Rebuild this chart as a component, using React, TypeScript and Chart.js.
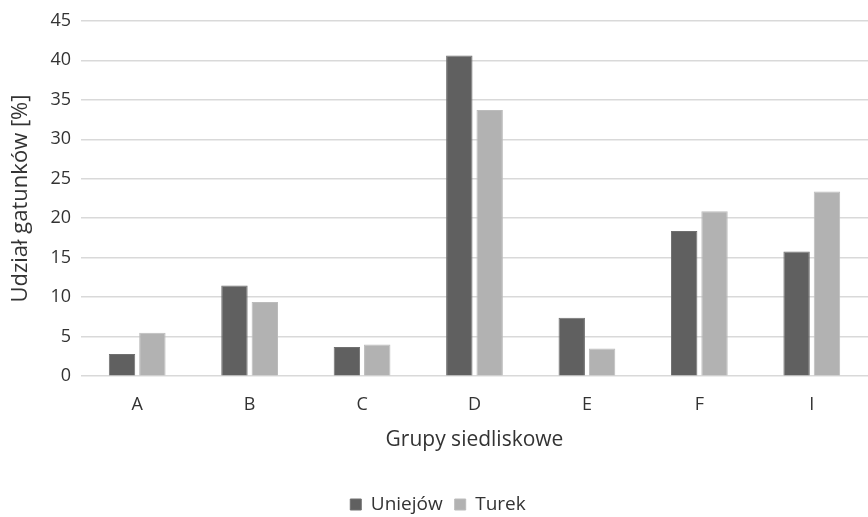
import React, { useEffect, useRef } from "react";
import { Chart, registerables } from "chart.js";

Chart.register(...registerables);

const categories = ["A", "B", "C", "D", "E", "F", "I"];
const uniejow = [2.8, 11.5, 3.7, 40.6, 7.4, 18.4, 15.8];
const turek = [5.5, 9.4, 4.0, 33.7, 3.5, 20.9, 23.4];
const seriesNames = ["Uniejów", "Turek"];

export default function App() {
  const ref = useRef<HTMLCanvasElement>(null);
  useEffect(() => {
    if (!ref.current) return;
    const font = "'Open Sans', 'Noto Sans', sans-serif";
    const textColor = "#333333";
    const chart = new Chart(ref.current, {
      type: "bar",
      data: {
        labels: categories,
        datasets: [
          {
            label: seriesNames[0],
            data: uniejow,
            backgroundColor: "#606060",
            borderColor: "#707070",
            borderWidth: 1,
            categoryPercentage: 0.54,
            barPercentage: 0.87,
          },
          {
            label: seriesNames[1],
            data: turek,
            backgroundColor: "#b2b2b2",
            borderColor: "#bcbcbc",
            borderWidth: 1,
            categoryPercentage: 0.54,
            barPercentage: 0.87,
          },
        ],
      },
      options: {
        animation: false,
        responsive: false,
        maintainAspectRatio: false,
        layout: { padding: { top: 2, right: 0, bottom: -7, left: 8 } },
        plugins: {
          tooltip: { enabled: false },
          legend: {
            position: "bottom",
            labels: {
              font: { family: font, size: 19 },
              color: textColor,
              boxWidth: 11,
              boxHeight: 11,
              padding: 12,
            },
          },
        },
        scales: {
          x: {
            grid: { display: false },
            border: { display: false },
            ticks: { font: { family: font, size: 18 }, color: textColor, padding: 10 },
            title: {
              display: true,
              text: "Grupy siedliskowe",
              font: { family: font, size: 21 },
              color: textColor,
              padding: { top: 2, bottom: 30 },
            },
          },
          y: {
            min: 0,
            max: 45,
            ticks: {
              stepSize: 5,
              font: { family: font, size: 18 },
              color: textColor,
              padding: 10,
            },
            grid: { color: "#d9d9d9", lineWidth: 1.5, drawTicks: false },
            border: { display: false },
            title: {
              display: true,
              text: "Udział gatunków [%]",
              font: { family: font, size: 22 },
              color: textColor,
              padding: { top: 0, bottom: 6 },
            },
          },
        },
      },
    });
    return () => chart.destroy();
  }, []);
  return (
    <div style={{ position: "fixed", left: 0, top: 0, width: 868, height: 517, background: "#fff" }}>
      <canvas ref={ref} width={868} height={517} style={{ width: 868, height: 517 }} />
    </div>
  );
}
